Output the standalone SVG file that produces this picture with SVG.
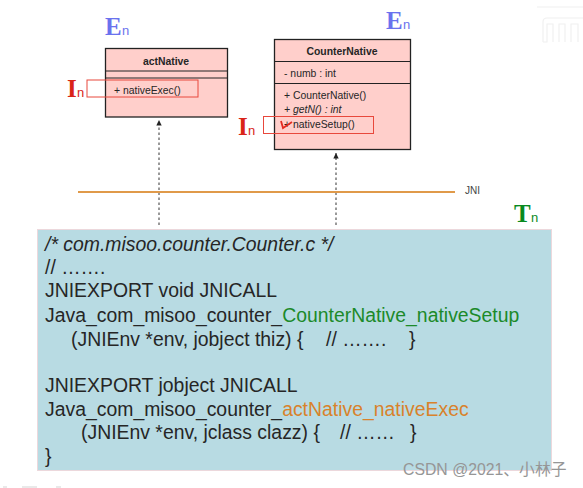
<svg xmlns="http://www.w3.org/2000/svg" width="583" height="488" viewBox="0 0 583 488">
<style>
text{font-family:"Liberation Sans",Arial,sans-serif;fill:#262626}
.code{font-size:19.4px}
.uml{font-size:10.4px}
.title{font-size:10.4px;font-weight:bold}
.cls{fill:#ffcfcb;stroke:#222;stroke-width:1.3}
.sep{stroke:#222;stroke-width:1}
.sel{fill:none;stroke:#e8483c;stroke-width:1}
.dep{stroke:#333;stroke-width:1;stroke-dasharray:2.5 2.5;fill:none;marker-end:url(#arr)}
.big{font-family:"Liberation Serif",serif;font-weight:bold;font-size:25px}
.sub{font-size:13px}
.e{fill:#6a72ee}
.i{fill:#d92418}
.t{fill:#0a8a1e}
</style>
<defs><marker id="arr" markerWidth="6" markerHeight="6" refX="5.500" refY="3" orient="auto" markerUnits="userSpaceOnUse"><path d="M0,0.300L5.500,3L0,5.700Z" fill="#222"/></marker></defs>
<rect width="583" height="488" fill="#fff"/>
<path d="M537,7H583M543,42V22Q543,18 547,18H583M543,42H547V24H553V42M559,42V24H565V42M571,42V24H578V42" fill="none" stroke="#f0f0f0" stroke-width="1.200"/>
<path d="M3,487H7M22,487H37M56,487H61" fill="none" stroke="#e2e2e2" stroke-width="1.500"/>
<g id="connectors">
<path class="dep" d="M159,225V120"/>
<path class="dep" d="M336,225V153"/>
<line x1="78" y1="192" x2="455" y2="192" stroke="#e09a4a" stroke-width="2"/>
</g>
<g id="actNative">
<rect class="cls" x="105.500" y="48.500" width="122" height="68.500"/>
<line class="sep" x1="105" y1="71" x2="228" y2="71"/>
<line class="sep" x1="105" y1="78" x2="228" y2="78"/>
<text class="title" x="166" y="65" text-anchor="middle">actNative</text>
<text class="uml" x="114" y="94">+ nativeExec()</text>
<rect class="sel" x="87" y="80" width="111" height="17"/>
</g>
<g id="CounterNative">
<rect class="cls" x="274.500" y="39.500" width="136" height="110"/>
<line class="sep" x1="274" y1="61.500" x2="411" y2="61.500"/>
<line class="sep" x1="274" y1="83.500" x2="411" y2="83.500"/>
<text class="title" x="342" y="55" text-anchor="middle">CounterNative</text>
<text class="uml" x="284" y="77">- numb : int</text>
<text class="uml" x="284" y="99">+ CounterNative()</text>
<text class="uml" x="284" y="113" font-style="italic">+ getN() : int</text>
<text class="uml" x="284" y="128">+ nativeSetup()</text>
<rect class="sel" x="263.500" y="116.500" width="110" height="17"/>
<path d="M281,121L283,128L292,122" fill="none" stroke="#e52a20" stroke-width="1.800"/>
</g>
<g id="label-e1"><text class="big e" x="105" y="35">E</text><text class="sub e" x="122" y="35">n</text></g>
<g id="label-e2"><text class="big e" x="386" y="29">E</text><text class="sub e" x="403" y="29">n</text></g>
<g id="label-i1"><text class="big i" x="67" y="97">I</text><text class="sub i" x="77" y="97">n</text></g>
<g id="label-i2"><text class="big i" x="238" y="135">I</text><text class="sub i" x="248" y="135">n</text></g>
<g id="label-t"><text class="big t" x="514" y="222">T</text><text class="sub t" x="531" y="222">n</text></g>
<text x="465" y="194" font-size="10" style="fill:#444">JNI</text>
<g id="code">
<rect x="37.500" y="229.500" width="514" height="241" fill="#b8dbe3" stroke="#ecd8dc" stroke-width="1"/>
<text class="code" x="45" y="251" font-style="italic">/* com.misoo.counter.Counter.c */</text>
<text class="code" x="45" y="274">// …….</text>
<text class="code" x="45" y="297">JNIEXPORT void JNICALL</text>
<text class="code" x="45" y="322">Java_com_misoo_counter_<tspan style="fill:#1c8a2a">CounterNative_nativeSetup</tspan></text>
<text class="code" x="71" y="346">(JNIEnv *env, jobject thiz) {<tspan x="326">// …….</tspan><tspan x="409">}</tspan></text>
<text class="code" x="45" y="392">JNIEXPORT jobject JNICALL</text>
<text class="code" x="45" y="416">Java_com_misoo_counter_<tspan style="fill:#d9822b">actNative_nativeExec</tspan></text>
<text class="code" x="81" y="439">(JNIEnv *env, jclass clazz) {<tspan x="340">// ……</tspan><tspan x="410">}</tspan></text>
<text class="code" x="45" y="463">}</text>
</g>
<text x="403" y="475" font-size="15.800" style="font-family:'Liberation Sans','Noto Sans CJK SC',sans-serif;fill:#969696">CSDN @2021、小林子</text>
</svg>
